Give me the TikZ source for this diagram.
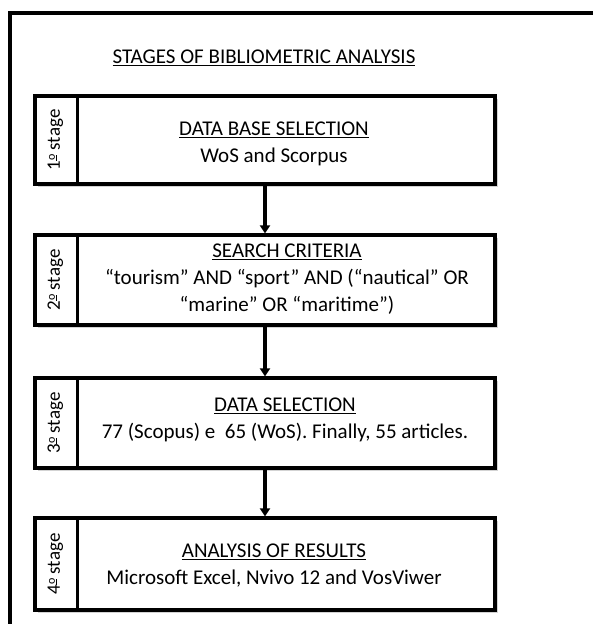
\documentclass[tikz,border=0pt]{standalone}
\usepackage{fontspec}
\setmainfont{Carlito}
\usepackage{tikz}
\usetikzlibrary{positioning,shadows,arrows.meta}
\newcommand{\ordo}{\raisebox{0.55ex}{\fontsize{12}{12}\selectfont\underline{o}}}

\begin{document}
\begin{tikzpicture}[x=1pt, y=-1pt,
    stagebox/.style={draw, fill=white, line width=3.2pt, minimum width=460pt,
        drop shadow={shadow xshift=3pt, shadow yshift=-3pt, opacity=0.35}},
    stagelabel/.style={rotate=90, font=\fontsize{19}{21}\selectfont},
    stagetext/.style={align=center, font=\fontsize{21}{27}\selectfont},
    flow/.style={line width=3.2pt, -{Triangle[width=10pt,length=8pt]}}]
        \useasboundingbox (0,0) rectangle (593,624);
        \clip (0,0) rectangle (593,624);
        % CORNICE
        \draw[line width=3.4pt] (10,640) -- (10,13) -- (610,13);
        \node[stagetext] (title) at (264,58) {\underline{STAGES OF BIBLIOMETRIC ANALYSIS}};

        % BOX
        \node[stagebox, minimum height=88pt] (box1) at (265,140) {};
        \node[stagebox, minimum height=90pt] (box2) at (265,280) {};
        \node[stagebox, minimum height=90pt] (box3) at (265,423) {};
        \node[stagebox, minimum height=92pt] (box4) at (265,564) {};
        \foreach \i in {1,...,4}
            \draw[line width=3.2pt] ([xshift=44pt]box\i.north west) -- ([xshift=44pt]box\i.south west);

        % ETICHETTE
        \node[stagelabel] (lab1) at ([xshift=22pt]box1.west) {1\ordo{} stage};
        \node[stagelabel] (lab2) at ([xshift=22pt]box2.west) {2\ordo{} stage};
        \node[stagelabel] (lab3) at ([xshift=22pt]box3.west) {3\ordo{} stage};
        \node[stagelabel] (lab4) at ([xshift=22pt]box4.west) {4\ordo{} stage};

        % TESTI
        \node[stagetext] (txt1) at (274,144) {\underline{DATA BASE SELECTION}\\WoS and Scorpus};
        \node[stagetext] (txt2) at (287,279) {\underline{SEARCH CRITERIA}\\“tourism” AND “sport” AND (“nautical” OR\\“marine” OR “maritime”)};
        \node[stagetext] (txt3) at (285,420) {\underline{DATA SELECTION}\\77 (Scopus) e \ 65 (WoS). Finally, 55 articles.};
        \node[stagetext] (txt4) at (274,566) {\underline{ANALYSIS OF RESULTS}\\Microsoft Excel, Nvivo 12 and VosViwer};

        % FRECCE
        \draw[flow] (box1.south) -- (box2.north);
        \draw[flow] (box2.south) -- (box3.north);
        \draw[flow] (box3.south) -- (box4.north);
\end{tikzpicture}
\end{document}
